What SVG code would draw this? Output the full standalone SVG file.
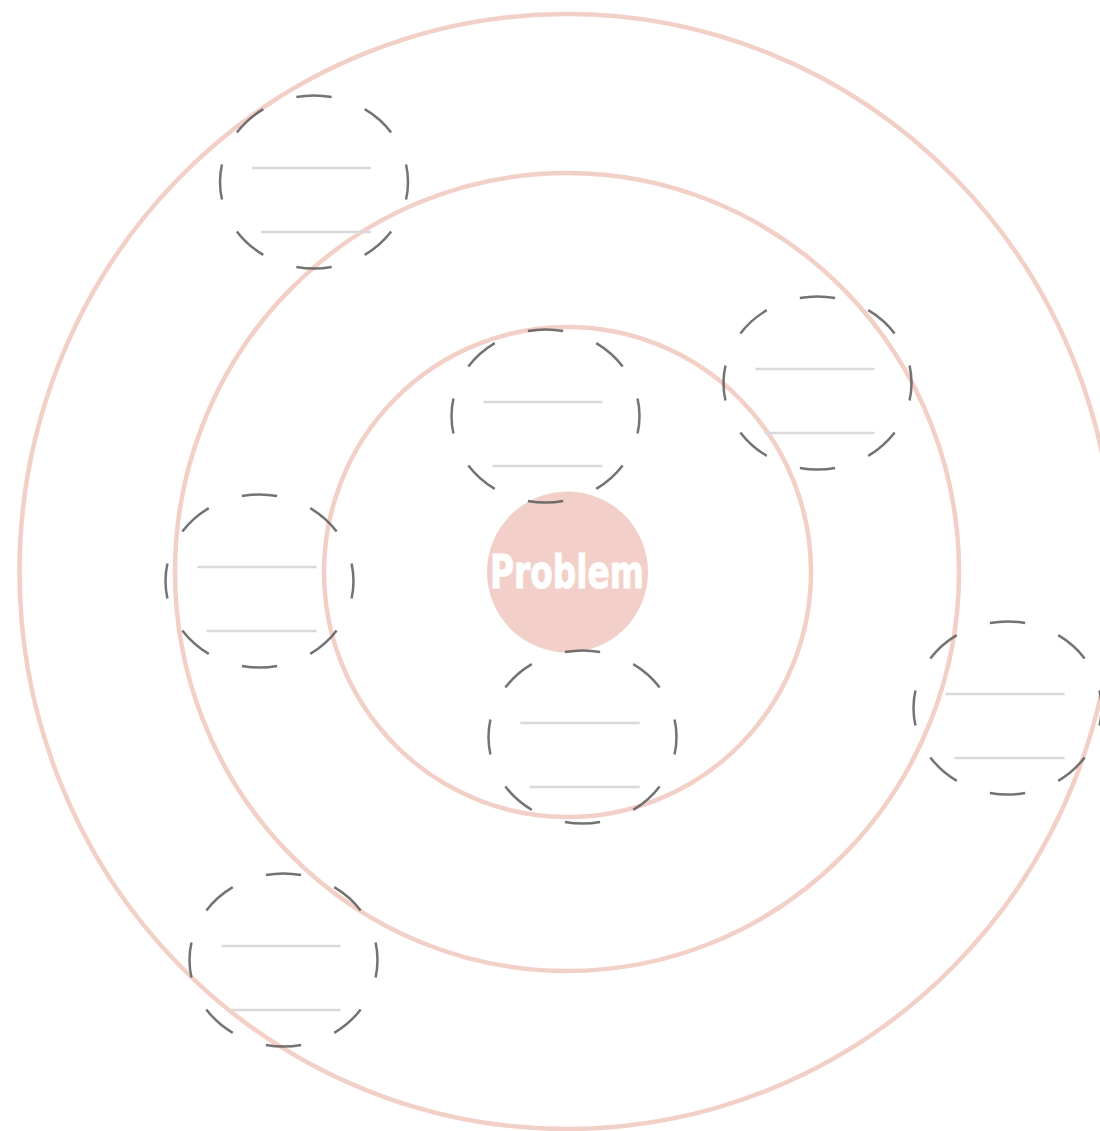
<svg xmlns="http://www.w3.org/2000/svg" width="1100" height="1131" viewBox="0 0 1100 1131">
<style>
.ring{fill:none;stroke:#f2d0c8;stroke-width:4.5}
.dash{fill:none;stroke:#5a5a5a;stroke-opacity:0.85;stroke-width:2.5;stroke-dasharray:50 50;stroke-dashoffset:25}
.ln{stroke:#d9d9d9;stroke-width:2.5}
.title{font-family:"DejaVu Sans",sans-serif;font-weight:bold;font-size:47px;fill:#ffffff;stroke:#ffffff;stroke-width:1}
</style>
<defs>
<g id="bubble">
<line class="ln" x1="-62" y1="-14" x2="57" y2="-14"/>
<line class="ln" x1="-53" y1="50" x2="57" y2="50"/>
<ellipse class="dash" cx="0" cy="0" rx="94" ry="86.5" pathLength="800"/>
</g>
</defs>
<rect width="1100" height="1131" fill="#ffffff"/>
<g id="rings">
<ellipse class="ring" cx="567" cy="571.5" rx="547.5" ry="557.5"/>
<ellipse class="ring" cx="567" cy="572" rx="392" ry="399"/>
<ellipse class="ring" cx="567.5" cy="572" rx="243.5" ry="245"/>
</g>
<g id="problem">
<circle cx="567.5" cy="572" r="80.5" fill="#f2d0c9"/>
<text class="title" x="567" y="588" text-anchor="middle" textLength="154" lengthAdjust="spacingAndGlyphs">Problem</text>
</g>
<g id="node1"><use href="#bubble" x="314" y="182"/></g>
<g id="node2"><use href="#bubble" x="817.5" y="383"/></g>
<g id="node3"><use href="#bubble" x="545.5" y="416"/></g>
<g id="node4"><use href="#bubble" x="259.5" y="581"/></g>
<g id="node5"><use href="#bubble" x="582.5" y="737"/></g>
<g id="node6"><use href="#bubble" x="1007.5" y="708"/></g>
<g id="node7"><use href="#bubble" x="283.5" y="960"/></g>
<g id="connectors"/>
</svg>
